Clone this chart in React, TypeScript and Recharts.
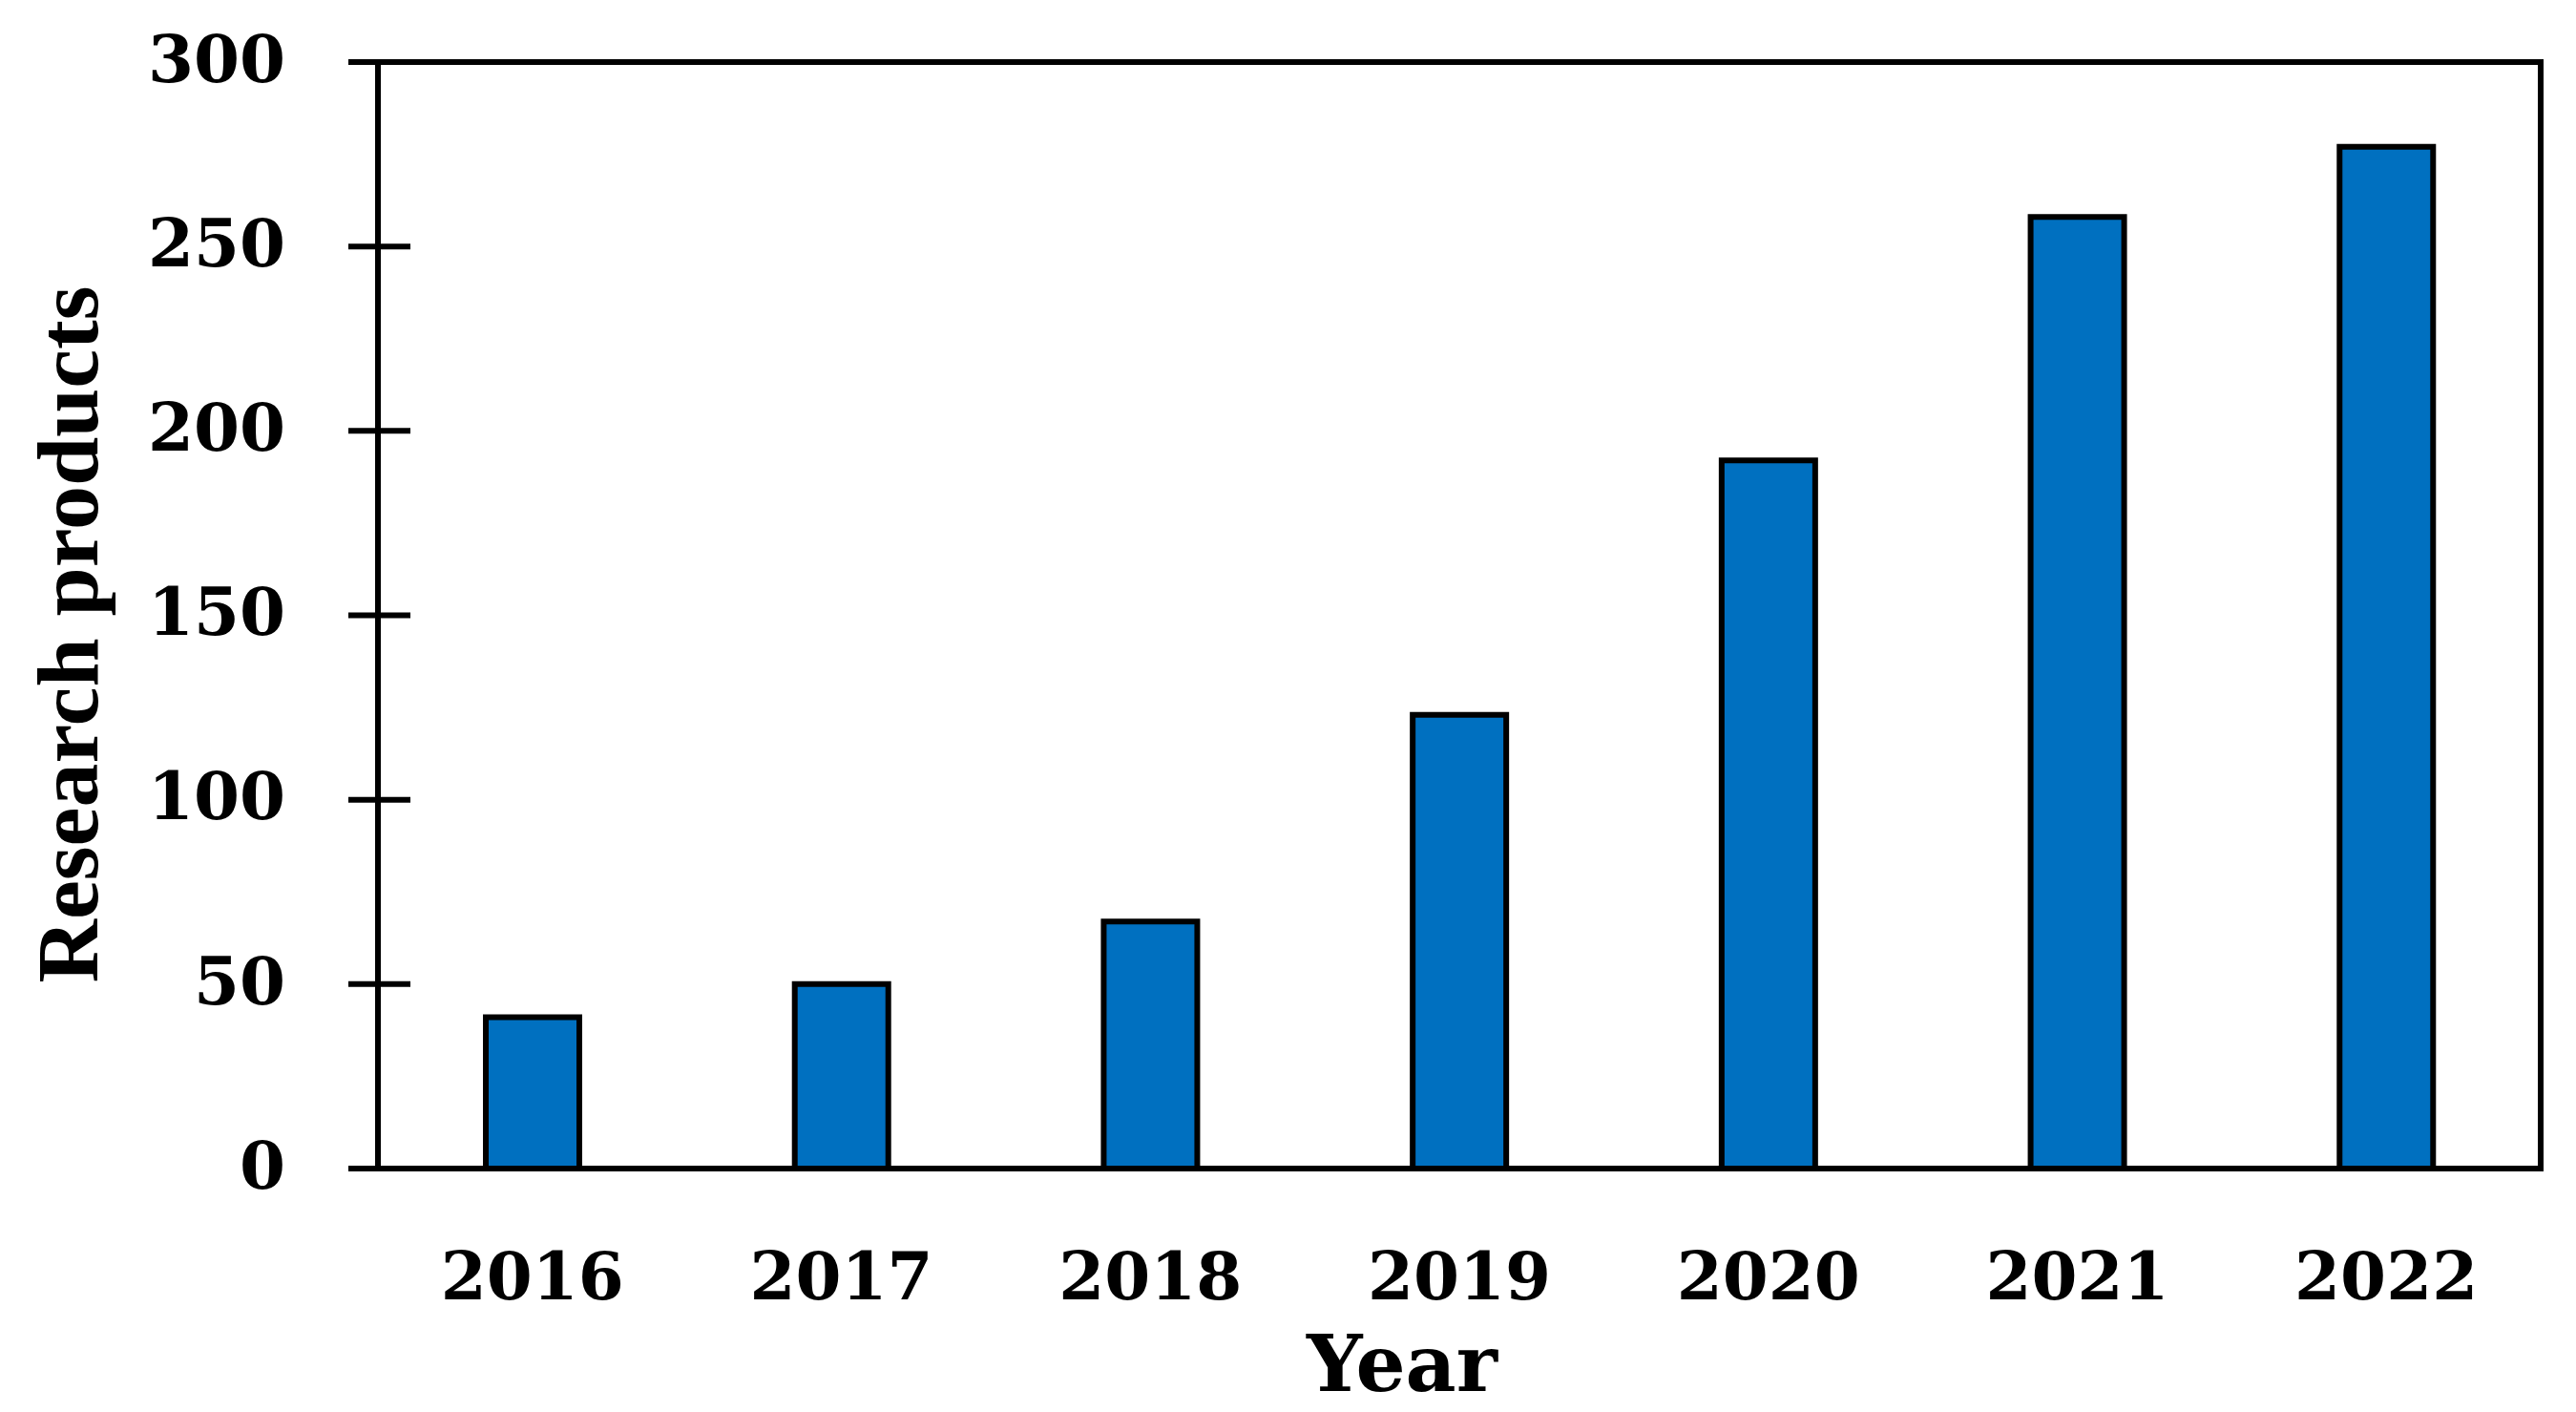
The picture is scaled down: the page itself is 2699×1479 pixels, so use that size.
import React from 'react';
import { BarChart, Bar, XAxis, YAxis, ReferenceArea } from 'recharts';

const years = ['2016', '2017', '2018', '2019', '2020', '2021', '2022'];
const products = [41, 50, 67, 123, 192, 258, 277];
const yTicks = [0, 50, 100, 150, 200, 250, 300];

const chartData = years.map((year, i) => ({ year, products: products[i] }));

const tickFont = '"DejaVu Serif", serif';
const labelFont = '"Liberation Serif", "Times New Roman", serif';

// gap between the label's right edge and the axis line
const Y_LABEL_GAP = 97;
const LINE_W = 6;

const YTick = ({ x, y, payload }: any) => (
  <g>
    <line
      x1={x + Y_LABEL_GAP - 31}
      x2={x + Y_LABEL_GAP + 34}
      y1={y}
      y2={y}
      stroke="#000"
      strokeWidth={LINE_W}
    />
    <text
      x={x}
      y={y}
      dy="0.3em"
      textAnchor="end"
      fill="#000"
      fontSize={69}
      fontWeight="bold"
      fontFamily={tickFont}
    >
      {payload.value}
    </text>
  </g>
);

const YTitle = ({ viewBox }: any) => {
  const cx = viewBox.x + 94;
  const cy = viewBox.y + viewBox.height / 2 + 20;
  return (
    <text
      x={cx}
      y={cy}
      transform={`rotate(-90, ${cx}, ${cy})`}
      textAnchor="middle"
      fill="#000"
      fontSize={92}
      fontWeight="bold"
      fontFamily={labelFont}
    >
      Research products
    </text>
  );
};

const XTitle = ({ viewBox }: any) => (
  <text
    x={viewBox.x + viewBox.width / 2 - 60}
    y={viewBox.y + 233}
    textAnchor="middle"
    fill="#000"
    fontSize={82}
    fontWeight="bold"
    fontFamily={tickFont}
  >
    Year
  </text>
);

export default function App() {
  return (
    <div style={{ position: 'absolute', left: 8, top: 8, width: 2683, height: 1471, background: '#fff' }}>
      <BarChart
        width={2683}
        height={1471}
        data={chartData}
        margin={{ top: 57, right: 29, bottom: 0, left: 0 }}
      >
        <XAxis
          dataKey="year"
          height={255}
          axisLine={{ stroke: '#000', strokeWidth: LINE_W }}
          tickLine={false}
          tickSize={0}
          tickMargin={88}
          tick={{ fill: '#000', fontSize: 69, fontWeight: 'bold', fontFamily: tickFont }}
          label={{ content: <XTitle /> }}
        />
        <YAxis
          width={388}
          domain={[0, 300]}
          ticks={yTicks}
          interval={0}
          axisLine={{ stroke: '#000', strokeWidth: LINE_W }}
          tickLine={false}
          tickSize={0}
          tickMargin={Y_LABEL_GAP}
          tick={<YTick />}
          label={{ content: <YTitle /> }}
        />
        <ReferenceArea
          y1={0}
          y2={300}
          fill="none"
          fillOpacity={0}
          stroke="#000"
          strokeWidth={LINE_W}
          ifOverflow="visible"
        />
        <Bar
          dataKey="products"
          fill="#0070C0"
          stroke="#000"
          strokeWidth={LINE_W}
          barSize={98}
          isAnimationActive={false}
        />
      </BarChart>
    </div>
  );
}
